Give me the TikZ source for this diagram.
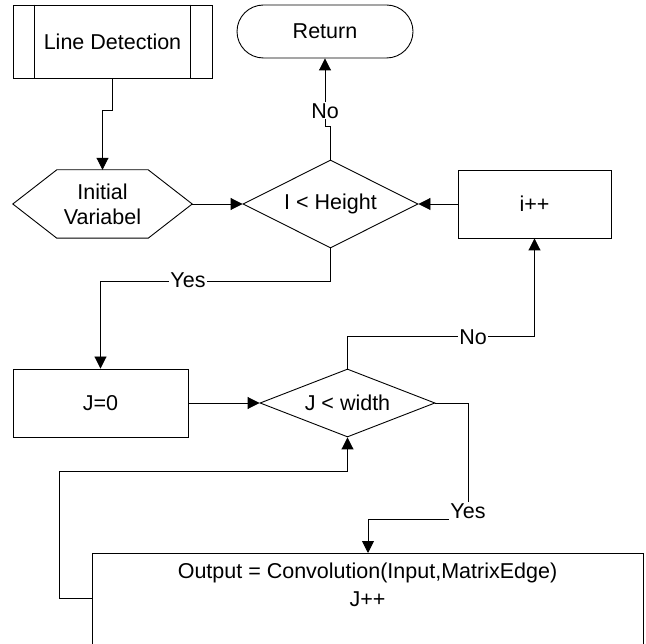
\documentclass[tikz,border=0pt]{standalone}
\usepackage{fontspec}
\setmainfont{Liberation Sans}
\usetikzlibrary{arrows.meta,shapes.geometric,shapes.misc,calc}
\begin{document}
\begin{tikzpicture}[x=1pt,y=-1pt,
  every node/.style={font=\fontsize{21.5}{25}\selectfont, inner sep=0pt},
  box/.style={draw, line width=0.9pt, rectangle},
  dec/.style={draw, line width=0.9pt, diamond, aspect=2},
  conn/.style={line width=0.9pt, -{Triangle[length=12pt,width=12pt]}},
  lbl/.style={fill=white, inner sep=1pt}]
\path[use as bounding box] (0,0) rectangle (646,644);
\fill[white] (0,0) rectangle (646,644);
\clip (0,0) rectangle (646,644);

% nodes
\node[box, minimum width=199, minimum height=73] (ld) at (112.5,41.5) {Line Detection};
\draw[line width=0.9pt] ($(ld.north west)+(22,0)$) -- ($(ld.south west)+(22,0)$);
\draw[line width=0.9pt] ($(ld.north east)+(-22,0)$) -- ($(ld.south east)+(-22,0)$);

\node[draw, line width=0.9pt, rounded rectangle, minimum width=176, minimum height=53] (ret) at (325,31.5) {Return};

\node[minimum width=179, minimum height=68, align=center] (hex) at (102.5,204) {Initial\\Variabel};
\draw[line width=0.9pt] (hex.west) -- ($(hex.north west)+(44,0)$) -- ($(hex.north east)+(-44,0)$)
  -- (hex.east) -- ($(hex.south east)+(-44,0)$) -- ($(hex.south west)+(44,0)$) -- cycle;

\node[dec, minimum width=175, minimum height=88] (d1) at (330.5,204) {I < Height};
\node[box, minimum width=153, minimum height=68] (inc) at (534.5,204) {i++};

\node[box, minimum width=175, minimum height=68] (j0) at (100.5,403) {J=0};
\node[dec, minimum width=175, minimum height=68] (d2) at (347.5,403) {J < width};

\node[box, minimum width=551, minimum height=160, anchor=north west] (outbox) at (92,553) {};
\node[align=center, font=\fontsize{21.5}{28}\selectfont] (outtxt) at (367.5,585) {Output = Convolution(Input,MatrixEdge)\\J++};
\coordinate (outin) at (368,553);
\coordinate (loopst) at (92,598);

% connectors
\draw[conn] (ld.south) -- ++(0,32) -| (hex.north);
\draw[conn] (hex.east) -- (d1.west);
\draw[conn] (d1.north) -- ++(0,-33) -| (ret.south);
\draw[conn] (inc.west) -- (d1.east);
\draw[conn] (d1.south) -- ++(0,33) -| (j0.north);
\draw[conn] (j0.east) -- (d2.west);
\draw[conn] (d2.north) -- ++(0,-32) -| (inc.south);
\draw[conn] (d2.east) -- ++(33,0) -- ++(0,116) -| (outin);
\draw[conn] (loopst) -- ++(-33,0) -- ++(0,-127) -| (d2.south);

% labels
\node[lbl] (no1) at (325,111) {No};
\node[lbl] (yes1) at (188,280) {Yes};
\node[lbl] (no2) at (473,337) {No};
\node[lbl] (yes2) at (468,511) {Yes};
\end{tikzpicture}
\end{document}
